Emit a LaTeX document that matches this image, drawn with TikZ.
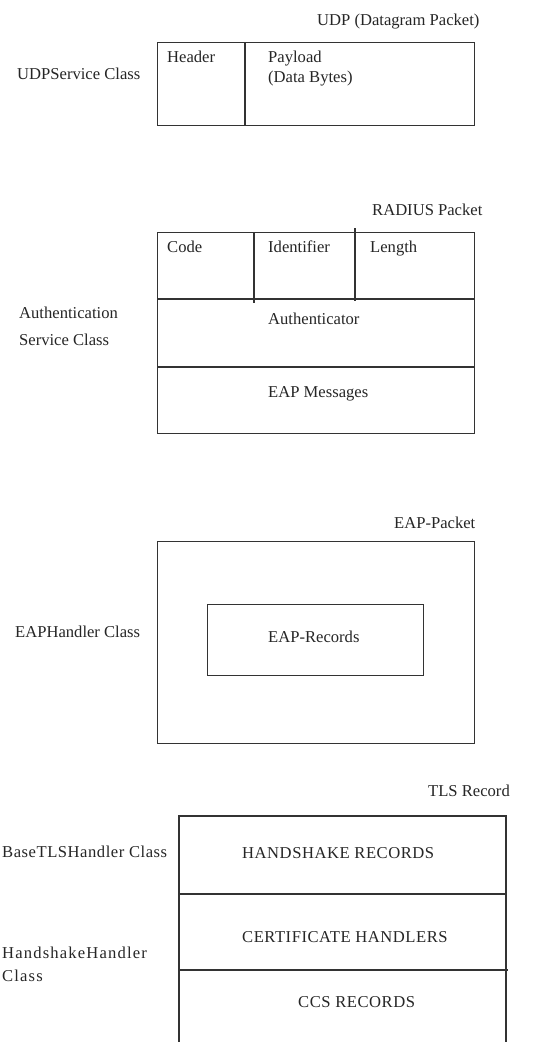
\documentclass[tikz,border=0pt]{standalone}
\usepackage{fontspec}
\setmainfont{Liberation Serif}
\begin{document}
\begin{tikzpicture}[x=1pt,y=-1pt,
  lbl/.style={inner sep=0pt, anchor=base west, font=\fontsize{16.6}{19}\selectfont, text=black!85},
  caps/.style={lbl, font=\fontsize{16.6}{19}\selectfont\addfontfeature{LetterSpace=3.2}},
  wide/.style={lbl, font=\fontsize{16.6}{19}\selectfont\addfontfeature{LetterSpace=7}},
  box/.style={draw=black!80, line width=1.3pt},
  rule/.style={draw=black!80, line width=1.3pt}]
\useasboundingbox[fill=white] (0,0) rectangle (547,1042);
% ---------- UDP ----------
\node[box, minimum width=317pt, minimum height=83pt, anchor=north west, inner sep=0pt] (udp) at (157,42) {};
\coordinate (udpd1) at (245,42);
\coordinate (udpd2) at (245,125);
\draw[rule] (udpd1) -- (udpd2);
\node[lbl] (udpt) at (317,25) {UDP (Datagram Packet)};
\node[lbl] (hdr) at (167,62) {Header};
\node[lbl] (pay) at (268,62) {Payload};
\node[lbl] (payb) at (268,82) {(Data Bytes)};
\node[lbl] (udpc) at (17,79) {UDPService Class};
% ---------- RADIUS ----------
\node[box, minimum width=317pt, minimum height=201pt, anchor=north west, inner sep=0pt] (rad) at (157,232) {};
\coordinate (r1a) at (157,299); \coordinate (r1b) at (474,299);
\coordinate (r2a) at (157,367); \coordinate (r2b) at (474,367);
\draw[rule] (r1a) -- (r1b);
\draw[rule] (r2a) -- (r2b);
\coordinate (v1a) at (254,232); \coordinate (v1b) at (254,303);
\coordinate (v2a) at (355,228); \coordinate (v2b) at (355,301);
\draw[rule] (v1a) -- (v1b);
\draw[rule] (v2a) -- (v2b);
\node[lbl] (radt) at (372,215) {RADIUS Packet};
\node[lbl] (code) at (167,252) {Code};
\node[lbl] (ident) at (268,252) {Identifier};
\node[lbl] (len) at (370,252) {Length};
\node[lbl] (auth) at (268,324) {Authenticator};
\node[lbl] (eapm) at (268,397) {EAP Messages};
\node[lbl] (authc1) at (19,318) {Authentication};
\node[lbl] (authc2) at (19,345) {Service Class};
% ---------- EAP ----------
\node[box, minimum width=317pt, minimum height=202pt, anchor=north west, inner sep=0pt] (eap) at (157,541) {};
\node[box, minimum width=216pt, minimum height=71pt, anchor=north west, inner sep=0pt] (eapr) at (207,604) {};
\node[lbl] (eaprt) at (268,642) {EAP-Records};
\node[lbl] (eapt) at (394,528) {EAP-Packet};
\node[lbl] (eapc) at (15,637) {EAPHandler Class};
% ---------- TLS ----------
\coordinate (tl) at (179,816);
\coordinate (tr) at (506,816);
\coordinate (bl) at (179,1044);
\coordinate (br) at (506,1044);
\draw[rule] (bl) -- (tl) -- (tr) -- (br);
\coordinate (t1a) at (179,894); \coordinate (t1b) at (506,894);
\coordinate (t2a) at (179,970); \coordinate (t2b) at (508,970);
\draw[rule] (t1a) -- (t1b);
\draw[rule] (t2a) -- (t2b);
\node[lbl] (tlst) at (428,796) {TLS Record};
\node[caps] (hs) at (242,858) {HANDSHAKE RECORDS};
\node[caps] (cert) at (242,942) {CERTIFICATE HANDLERS};
\node[caps] (ccs) at (298,1007) {CCS RECORDS};
\node[caps] (btls) at (2,857) {BaseTLSHandler Class};
\node[wide] (hh1) at (2,958) {HandshakeHandler};
\node[wide] (hh2) at (2,981) {Class};
\end{tikzpicture}
\end{document}
